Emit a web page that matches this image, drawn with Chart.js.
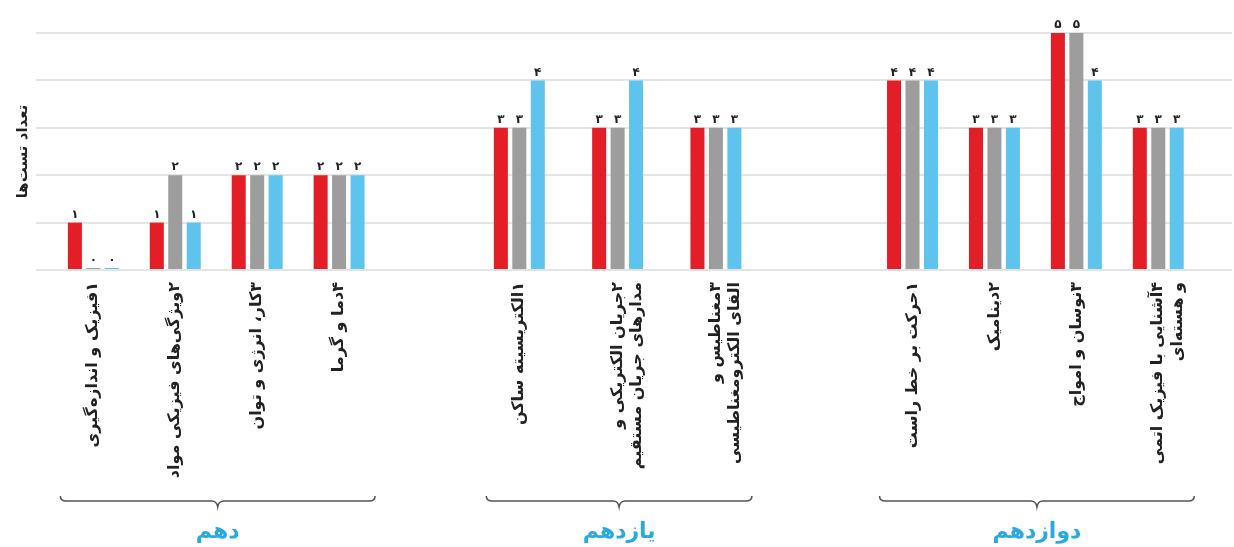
<!DOCTYPE html>
<html>
<head>
<meta charset="utf-8">
<script src="https://cdn.jsdelivr.net/npm/chart.js@4"></script>
<style>
  body { margin: 0; background: #fff; }
  #wrap { width: 1234px; height: 547px; }
</style>
</head>
<body>
<div id="wrap"><canvas id="testsChart" dir="rtl"></canvas></div>
<script>
// categories (Persian), per grade group
const categories = [
  '۱فیزیک و اندازه‌گیری',
  '۲ویژگی‌های فیزیکی مواد',
  '۳کار، انرژی و توان',
  '۴دما و گرما',
  '۱الکتریسیته ساکن',
  ['۲جریان الکتریکی و', 'مدارهای جریان مستقیم'],
  ['۳مغناطیس و', 'القای الکترومغناطیسی'],
  '۱حرکت بر خط راست',
  '۲دینامیک',
  '۳نوسان و امواج',
  ['۴آشنایی با فیزیک اتمی', 'و هسته‌ای']
];
const groupNames = ['دهم', 'یازدهم', 'دوازدهم'];
const groupSizes = [4, 3, 4];

// number of tests per category, three series
const redValues  = [1, 1, 2, 2, 3, 3, 3, 4, 3, 5, 3];
const grayValues = [0, 2, 2, 2, 3, 3, 3, 4, 3, 5, 3];
const blueValues = [0, 1, 2, 2, 4, 4, 3, 4, 3, 4, 3];

const persianDigits = ['۰', '۱', '۲', '۳', '۴', '۵', '۶', '۷', '۸', '۹'];

// layout: slot of each category on a fine category axis (spacers in between)
const slotOf = [3, 8, 13, 18, 29, 35, 41, 53, 58, 63, 68];
const slotCount = 73;

function spread(values, blank) {
  const out = new Array(slotCount).fill(blank);
  values.forEach((v, i) => { out[slotOf[i]] = v; });
  return out;
}

function toPersian(n) {
  return String(n).split('').map(d => persianDigits[+d] ?? d).join('');
}

// value labels above bars
const valueLabels = {
  id: 'valueLabels',
  afterDatasetsDraw(chart) {
    const ctx = chart.ctx;
    ctx.save();
    ctx.font = 'bold 12px "DejaVu Sans"';
    ctx.fillStyle = '#222';
    ctx.textAlign = 'center';
    ctx.textBaseline = 'bottom';
    chart.data.datasets.forEach((ds, di) => {
      chart.getDatasetMeta(di).data.forEach((bar, i) => {
        const v = ds.data[i];
        if (v === null || v === undefined) return;
        ctx.fillText(toPersian(v), bar.x, bar.y - 2);
      });
    });
    ctx.restore();
  }
};

// curly braces with the grade names under the axis labels
const groupBraces = {
  id: 'groupBraces',
  afterDraw(chart) {
    const ctx = chart.ctx;
    const xs = chart.scales.x;
    const y = 501;
    let start = 0;
    ctx.save();
    groupNames.forEach((name, g) => {
      const first = slotOf[start];
      const last = slotOf[start + groupSizes[g] - 1];
      start += groupSizes[g];
      const x1 = xs.getPixelForValue(first) - 33;
      const x2 = xs.getPixelForValue(last) + 36;
      const mid = (x1 + x2) / 2;
      ctx.beginPath();
      ctx.moveTo(x1, y - 5);
      ctx.quadraticCurveTo(x1, y, x1 + 6, y);
      ctx.lineTo(mid - 6, y);
      ctx.quadraticCurveTo(mid - 1, y, mid, y + 6);
      ctx.quadraticCurveTo(mid + 1, y, mid + 6, y);
      ctx.lineTo(x2 - 6, y);
      ctx.quadraticCurveTo(x2, y, x2, y - 5);
      ctx.strokeStyle = '#555';
      ctx.lineWidth = 1.5;
      ctx.stroke();

      ctx.font = 'bold 22px "DejaVu Sans"';
      ctx.fillStyle = '#2aa9e0';
      ctx.textAlign = 'center';
      ctx.textBaseline = 'middle';
      ctx.fillText(name, mid, 532);
    });
    ctx.restore();
  }
};

Chart.defaults.font.family = '"DejaVu Sans", sans-serif';

const ctx = document.getElementById('testsChart').getContext('2d');
new Chart(ctx, {
  type: 'bar',
  data: {
    labels: spread(categories, ''),
    datasets: [
      { label: 'red', data: spread(redValues, null), backgroundColor: '#e31e26' },
      { label: 'gray', data: spread(grayValues, null), backgroundColor: '#9d9d9d' },
      { label: 'blue', data: spread(blueValues, null), backgroundColor: '#5ec4ee' }
    ]
  },
  options: {
    responsive: true,
    maintainAspectRatio: false,
    animation: false,
    layout: { padding: { top: 33, right: 2, left: 0, bottom: 0 } },
    datasets: {
      bar: {
        categoryPercentage: 3.38,
        barPercentage: 0.76,
        minBarLength: 2,
        skipNull: false
      }
    },
    plugins: {
      legend: { display: false },
      tooltip: { enabled: false }
    },
    scales: {
      x: {
        offset: true,
        grid: { display: false, drawTicks: false },
        border: { display: false },
        ticks: {
          autoSkip: false,
          minRotation: 90,
          maxRotation: 90,
          padding: 12,
          color: '#222',
          font: { size: 16, weight: 'bold' }
        },
        afterFit: (s) => {
          s.height = 277;
          s.paddingLeft = 0;
          s.paddingRight = 0;
        }
      },
      y: {
        min: 0,
        max: 5,
        ticks: { display: false, stepSize: 1 },
        grid: { color: '#e4e4e4', lineWidth: 2, drawTicks: false },
        border: { display: false },
        title: {
          display: true,
          text: 'تعداد تست‌ها',
          color: '#222',
          font: { size: 15, weight: 'bold' },
          padding: { top: 14, bottom: 0 }
        },
        afterFit: (s) => { s.width = 36; }
      }
    }
  },
  plugins: [valueLabels, groupBraces]
});
</script>
</body>
</html>
